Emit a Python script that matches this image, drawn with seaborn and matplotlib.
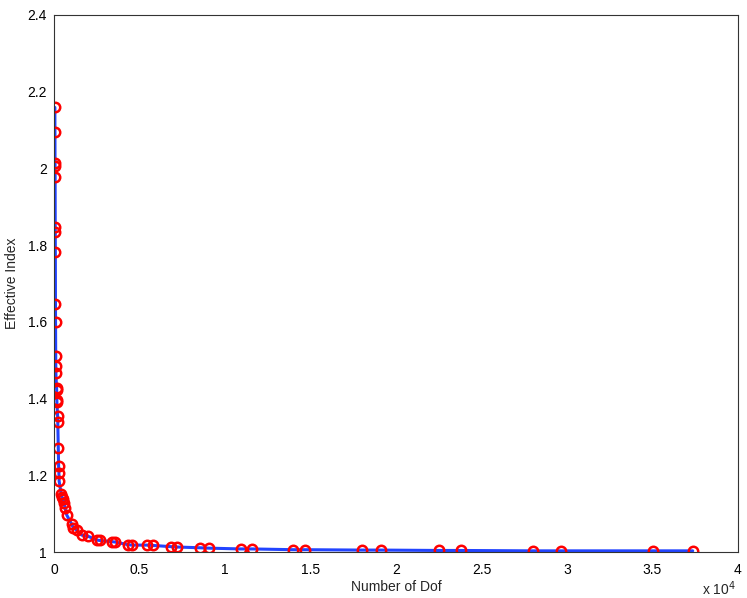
import matplotlib
matplotlib.use("Agg")
import pandas as pd
import seaborn as sns
from matplotlib import pyplot as plt
from matplotlib.ticker import FuncFormatter

# degrees of freedom vs effective index
dof = [50, 55, 60, 62, 65, 72, 74, 78, 86, 90,
       100, 104, 108, 150, 155, 165, 170, 210, 220, 250,
       270, 285, 300, 420, 470, 540, 590, 640, 750, 1030,
       1130, 1330, 1620, 2000, 2500, 2690, 3380, 3570, 4330, 4545,
       5420, 5810, 6825, 7211, 8538, 9082, 10918, 11561, 13994, 14678,
       17993, 19104, 22531, 23800, 27993, 29631, 35011, 37350]
neff = [2.159, 2.096, 2.013, 2.006, 1.977, 1.848, 1.835, 1.783, 1.647, 1.599,
        1.511, 1.485, 1.467, 1.428, 1.422, 1.396, 1.390, 1.355, 1.340, 1.272,
        1.224, 1.207, 1.185, 1.152, 1.143, 1.137, 1.128, 1.115, 1.096, 1.073,
        1.063, 1.057, 1.044, 1.041, 1.031, 1.030, 1.027, 1.026, 1.019, 1.018,
        1.018, 1.017, 1.014, 1.013, 1.011, 1.010, 1.008, 1.008, 1.006, 1.006,
        1.005, 1.005, 1.004, 1.004, 1.003, 1.003, 1.003, 1.003]

data = pd.DataFrame({"dof": dof, "neff": neff})

sns.set_style("white")
plt.rcParams["font.family"] = ["Liberation Sans", "DejaVu Sans"]

fig = plt.figure(figsize=(7.47, 5.98), dpi=100)
ax = fig.add_axes([54 / 747, 1 - 552 / 598, 684 / 747, 537 / 598])

sns.lineplot(data, x="dof", y="neff", ax=ax, sort=False, estimator=None,
             color="#2244ff", linewidth=2.2, marker="o", markersize=6.8,
             markerfacecolor="none", markeredgecolor="#ff0000", markeredgewidth=1.8)

ax.set_xlim(0, 40000)
ax.set_ylim(1, 2.4)
ax.set_xticks([i * 5000 for i in range(9)])
ax.set_yticks([1 + 0.2 * i for i in range(8)])
ax.xaxis.set_major_formatter(FuncFormatter(lambda v, p: f"{v / 1e4:g}"))
ax.yaxis.set_major_formatter(FuncFormatter(lambda v, p: f"{v:.1f}".rstrip("0").rstrip(".")))
ax.tick_params(direction="in", length=5, width=0.8, labelsize=10, pad=5,
               color="#333333", labelcolor="black")
ax.tick_params(axis="x", pad=8)
for s in ax.spines.values():
    s.set_color("#333333")
    s.set_linewidth(0.8)

ax.set_xlabel("Number of Dof", fontsize=10, labelpad=2)
ax.set_ylabel("Effective Index", fontsize=10, labelpad=6)
ax.text(0.997, -0.068, r"x 10$^{4}$", transform=ax.transAxes, ha="right", va="center", fontsize=10)

fig.savefig("out.png", dpi=100)
